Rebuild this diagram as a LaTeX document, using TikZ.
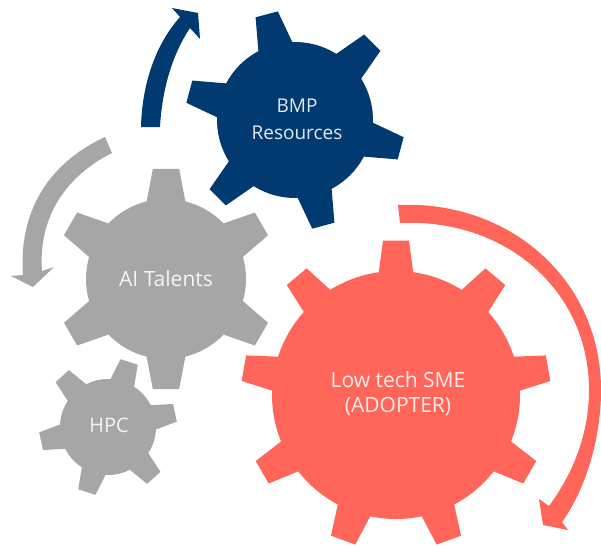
\documentclass[tikz,border=0pt]{standalone}
\usepackage{fontspec}
\setmainfont{Open Sans}
\definecolor{navygear}{HTML}{003A70}
\definecolor{graygear}{HTML}{A6A6A6}
\definecolor{redgear}{HTML}{FF6659}
\tikzset{
  geartext/.style={text=white,opacity=0.88,align=center,inner sep=0pt},
}
% cx cy Rbody Rtip lastindex step start bodyhalf tiphalf colour
\newcommand{\geardraw}[9]{%
  \begin{scope}[shift={(#1,#2)},yscale=-1]
    \def\gaa{#7}\def\gst{#6}\def\gbh{#8}\def\gth{#9}
    \fill[gearcolor] (\gaa-\gbh:#3)
      \foreach \k [evaluate=\k as \a using \gaa+\k*\gst] in {0,...,#5} {
        -- (\a-\gbh:#3) -- (\a-\gth:#4) -- (\a+\gth:#4) -- (\a+\gbh:#3)
        arc[start angle=\a+\gbh,end angle=\a+\gst-\gbh,radius=#3]
      } -- cycle;
  \end{scope}}
\begin{document}
\begin{tikzpicture}[x=1pt,y=-1pt]
\useasboundingbox (0,0) rectangle (601,546);
% gears
\colorlet{gearcolor}{navygear}
\geardraw{295}{120}{78}{110}{5}{60}{105}{13}{6}
\colorlet{gearcolor}{graygear}
\geardraw{166}{279}{80}{111}{5}{60}{90}{14}{6.8}
\geardraw{108}{427}{48}{69}{5}{60}{72}{15}{7.5}
\colorlet{gearcolor}{redgear}
\geardraw{396}{395}{124}{155}{8}{40}{90}{8}{4.8}
% curved arrows
\fill[navygear] (141,127) .. controls (142,85) and (155,45) .. (180,17)
  -- (172,8) -- (198,13) -- (200,39) -- (190,28)
  .. controls (172,55) and (162,90) .. (160,127) -- cycle;
\fill[graygear] (105,137) .. controls (55,160) and (18,205) .. (23,275)
  -- (11,276) -- (33,287) -- (54,267) -- (42,271)
  .. controls (38,215) and (68,175) .. (112,153) -- cycle;
\fill[redgear] (398,205) .. controls (510,200) and (601,280) .. (601,390)
  .. controls (601,440) and (585,490) .. (562,522)
  -- (568,530) -- (543,525) -- (539,499) -- (549,506)
  .. controls (572,475) and (589,435) .. (589,390)
  .. controls (589,290) and (505,218) .. (400,223) -- cycle;
% labels
\node[geartext,font=\fontsize{19}{27}\selectfont] (bmp) at (297,119) {BMP\\Resources};
\node[geartext,font=\fontsize{21}{25}\selectfont] (ai) at (166,279) {AI Talents};
\node[geartext,font=\fontsize{21}{25}\selectfont] (sme) at (398,394) {Low tech SME\\(ADOPTER)};
\node[geartext,font=\fontsize{20}{25}\selectfont] (hpc) at (109,425) {HPC};
\end{tikzpicture}
\end{document}
